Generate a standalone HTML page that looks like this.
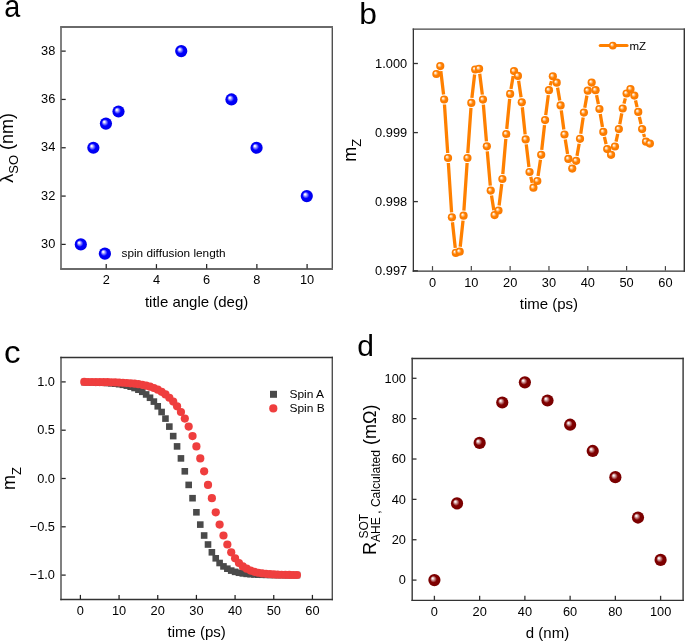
<!DOCTYPE html>
<html><head><meta charset="utf-8"><style>
html,body{margin:0;padding:0;background:#fff;}
svg{display:block;will-change:transform;}
text{font-family:"Liberation Sans", sans-serif;fill:#000;}
</style></head><body>
<svg width="685" height="642" viewBox="0 0 685 642">
<defs>
<radialGradient id="gBlue" cx="0.5" cy="0.5" r="0.5" fx="0.34" fy="0.34">
<stop offset="0" stop-color="#ffffff"/><stop offset="0.1" stop-color="#f4f4ff"/><stop offset="0.55" stop-color="#0000ff"/><stop offset="1" stop-color="#0000e8"/>
</radialGradient>
<radialGradient id="gOrange" cx="0.5" cy="0.5" r="0.5" fx="0.34" fy="0.34">
<stop offset="0" stop-color="#ffffff"/><stop offset="0.1" stop-color="#fff4e8"/><stop offset="0.55" stop-color="#ff8000"/><stop offset="1" stop-color="#f87800"/>
</radialGradient>
<radialGradient id="gRed" cx="0.5" cy="0.5" r="0.5" fx="0.34" fy="0.34">
<stop offset="0" stop-color="#ffffff"/><stop offset="0.1" stop-color="#f8eeee"/><stop offset="0.55" stop-color="#800000"/><stop offset="1" stop-color="#780000"/>
</radialGradient>
</defs>
<rect x="0" y="0" width="685" height="642" fill="#fff"/>
<line x1="61.0" y1="26.3" x2="61.0" y2="269.7" stroke="#808080" stroke-width="2"/>
<line x1="332.3" y1="26.3" x2="332.3" y2="269.7" stroke="#505050" stroke-width="1.4"/>
<line x1="60.3" y1="27.0" x2="333.0" y2="27.0" stroke="#6a6a6a" stroke-width="2"/>
<line x1="60.3" y1="269.0" x2="333.0" y2="269.0" stroke="#6a6a6a" stroke-width="2"/>
<line x1="106.22" y1="268.50" x2="106.22" y2="264.10" stroke="#222" stroke-width="1.25"/>
<text transform="translate(106.22,284.30) scale(0.95,1)" font-size="13.5" text-anchor="middle" >2</text>
<line x1="156.44" y1="268.50" x2="156.44" y2="264.10" stroke="#222" stroke-width="1.25"/>
<text transform="translate(156.44,284.30) scale(0.95,1)" font-size="13.5" text-anchor="middle" >4</text>
<line x1="206.66" y1="268.50" x2="206.66" y2="264.10" stroke="#222" stroke-width="1.25"/>
<text transform="translate(206.66,284.30) scale(0.95,1)" font-size="13.5" text-anchor="middle" >6</text>
<line x1="256.88" y1="268.50" x2="256.88" y2="264.10" stroke="#222" stroke-width="1.25"/>
<text transform="translate(256.88,284.30) scale(0.95,1)" font-size="13.5" text-anchor="middle" >8</text>
<line x1="307.10" y1="268.50" x2="307.10" y2="264.10" stroke="#222" stroke-width="1.25"/>
<text transform="translate(307.10,284.30) scale(0.95,1)" font-size="13.5" text-anchor="middle" >10</text>
<line x1="61.50" y1="244.40" x2="65.70" y2="244.40" stroke="#222" stroke-width="1.25"/>
<text transform="translate(55.30,248.10) scale(0.95,1)" font-size="13.5" text-anchor="end" >30</text>
<line x1="61.50" y1="196.08" x2="65.70" y2="196.08" stroke="#222" stroke-width="1.25"/>
<text transform="translate(55.30,199.78) scale(0.95,1)" font-size="13.5" text-anchor="end" >32</text>
<line x1="61.50" y1="147.76" x2="65.70" y2="147.76" stroke="#222" stroke-width="1.25"/>
<text transform="translate(55.30,151.46) scale(0.95,1)" font-size="13.5" text-anchor="end" >34</text>
<line x1="61.50" y1="99.44" x2="65.70" y2="99.44" stroke="#222" stroke-width="1.25"/>
<text transform="translate(55.30,103.14) scale(0.95,1)" font-size="13.5" text-anchor="end" >36</text>
<line x1="61.50" y1="51.12" x2="65.70" y2="51.12" stroke="#222" stroke-width="1.25"/>
<text transform="translate(55.30,54.82) scale(0.95,1)" font-size="13.5" text-anchor="end" >38</text>
<circle cx="80.81" cy="244.40" r="6.1" fill="url(#gBlue)"/>
<circle cx="93.36" cy="147.76" r="6.1" fill="url(#gBlue)"/>
<circle cx="105.92" cy="123.60" r="6.1" fill="url(#gBlue)"/>
<circle cx="118.48" cy="111.52" r="6.1" fill="url(#gBlue)"/>
<circle cx="181.25" cy="51.12" r="6.1" fill="url(#gBlue)"/>
<circle cx="231.47" cy="99.44" r="6.1" fill="url(#gBlue)"/>
<circle cx="256.58" cy="147.76" r="6.1" fill="url(#gBlue)"/>
<circle cx="306.80" cy="196.08" r="6.1" fill="url(#gBlue)"/>
<circle cx="104.90" cy="253.60" r="6.1" fill="url(#gBlue)"/>
<text x="121.50" y="257.30" font-size="11.8" text-anchor="start" >spin diffusion length</text>
<text x="196.60" y="306.80" font-size="15" text-anchor="middle" >title angle (deg)</text>
<text transform="translate(13.0,147.9) rotate(-90)" font-size="18" text-anchor="middle">&#955;<tspan font-size="13" dy="5">SO</tspan><tspan dy="-5"> (nm)</tspan></text>
<text transform="translate(4.3,17.0) scale(0.9,1)" font-size="32">a</text>
<line x1="413.35" y1="28.5" x2="413.35" y2="271.8" stroke="#333" stroke-width="1.3"/>
<line x1="684.3" y1="28.5" x2="684.3" y2="271.8" stroke="#333" stroke-width="1.4"/>
<line x1="412.65000000000003" y1="29.2" x2="685.0" y2="29.2" stroke="#444" stroke-width="1.25"/>
<line x1="412.65000000000003" y1="271.1" x2="685.0" y2="271.1" stroke="#333" stroke-width="1.3"/>
<line x1="432.50" y1="270.60" x2="432.50" y2="266.10" stroke="#444" stroke-width="1.2"/>
<text transform="translate(432.50,286.70) scale(0.95,1)" font-size="13.5" text-anchor="middle" >0</text>
<line x1="471.32" y1="270.60" x2="471.32" y2="266.10" stroke="#444" stroke-width="1.2"/>
<text transform="translate(471.32,286.70) scale(0.95,1)" font-size="13.5" text-anchor="middle" >10</text>
<line x1="510.14" y1="270.60" x2="510.14" y2="266.10" stroke="#444" stroke-width="1.2"/>
<text transform="translate(510.14,286.70) scale(0.95,1)" font-size="13.5" text-anchor="middle" >20</text>
<line x1="548.96" y1="270.60" x2="548.96" y2="266.10" stroke="#444" stroke-width="1.2"/>
<text transform="translate(548.96,286.70) scale(0.95,1)" font-size="13.5" text-anchor="middle" >30</text>
<line x1="587.78" y1="270.60" x2="587.78" y2="266.10" stroke="#444" stroke-width="1.2"/>
<text transform="translate(587.78,286.70) scale(0.95,1)" font-size="13.5" text-anchor="middle" >40</text>
<line x1="626.60" y1="270.60" x2="626.60" y2="266.10" stroke="#444" stroke-width="1.2"/>
<text transform="translate(626.60,286.70) scale(0.95,1)" font-size="13.5" text-anchor="middle" >50</text>
<line x1="665.42" y1="270.60" x2="665.42" y2="266.10" stroke="#444" stroke-width="1.2"/>
<text transform="translate(665.42,286.70) scale(0.95,1)" font-size="13.5" text-anchor="middle" >60</text>
<line x1="413.50" y1="63.50" x2="417.90" y2="63.50" stroke="#333" stroke-width="1.3"/>
<text transform="translate(407.20,67.70) scale(0.95,1)" font-size="13.5" text-anchor="end" >1.000</text>
<line x1="413.50" y1="132.60" x2="417.90" y2="132.60" stroke="#333" stroke-width="1.3"/>
<text transform="translate(407.20,136.80) scale(0.95,1)" font-size="13.5" text-anchor="end" >0.999</text>
<line x1="413.50" y1="201.60" x2="417.90" y2="201.60" stroke="#333" stroke-width="1.3"/>
<text transform="translate(407.20,205.80) scale(0.95,1)" font-size="13.5" text-anchor="end" >0.998</text>
<line x1="413.50" y1="270.80" x2="417.90" y2="270.80" stroke="#333" stroke-width="1.3"/>
<text transform="translate(407.20,275.00) scale(0.95,1)" font-size="13.5" text-anchor="end" >0.997</text>
<path fill="none" stroke="#ff8000" stroke-width="3.3" d="M440.84,71.07L443.57,94.53M444.48,104.49L447.70,153.01M448.35,162.99L451.58,212.31M452.45,222.27L455.25,247.83M460.21,246.73L463.02,220.67M463.89,210.71L467.10,162.99M467.79,153.01L470.97,107.89M471.90,97.93L474.62,74.47M479.71,73.76L482.34,94.64M483.38,104.58L486.43,141.32M487.28,151.28L490.29,185.62M491.51,195.54L493.83,210.16M499.11,205.54L501.76,183.96M502.81,174.02L505.83,138.98M506.74,129.02L509.66,98.88M510.98,88.97L513.18,76.03M518.63,80.85L521.06,97.35M522.31,107.27L525.15,134.43M526.26,144.36L528.96,167.04M530.75,176.85L532.23,182.85M538.05,176.05L540.46,159.75M541.75,149.83L544.52,125.07M545.72,115.14L548.32,95.16M550.30,85.38L551.50,81.12M557.57,87.63L559.76,100.47M561.27,110.36L563.83,129.54M565.27,139.44L567.58,153.96M570.23,163.54L570.39,163.96M577.00,155.88L579.15,143.72M580.75,133.85L583.17,117.55M584.77,107.68L586.91,95.62M596.56,95.10L598.41,104.10M600.26,113.93L602.47,126.97M604.41,136.78L606.09,144.22M616.04,141.62L617.75,133.98M619.76,124.19L621.79,113.41M623.97,103.66L625.35,98.34M635.52,100.46L637.09,107.04M639.35,116.78L641.03,124.22M643.60,133.88L644.54,136.92"/>
<circle cx="436.38" cy="74.00" r="4.1" fill="url(#gOrange)"/>
<circle cx="440.26" cy="66.10" r="4.1" fill="url(#gOrange)"/>
<circle cx="444.15" cy="99.50" r="4.1" fill="url(#gOrange)"/>
<circle cx="448.03" cy="158.00" r="4.1" fill="url(#gOrange)"/>
<circle cx="451.91" cy="217.30" r="4.1" fill="url(#gOrange)"/>
<circle cx="455.79" cy="252.80" r="4.1" fill="url(#gOrange)"/>
<circle cx="459.67" cy="251.70" r="4.1" fill="url(#gOrange)"/>
<circle cx="463.56" cy="215.70" r="4.1" fill="url(#gOrange)"/>
<circle cx="467.44" cy="158.00" r="4.1" fill="url(#gOrange)"/>
<circle cx="471.32" cy="102.90" r="4.1" fill="url(#gOrange)"/>
<circle cx="475.20" cy="69.50" r="4.1" fill="url(#gOrange)"/>
<circle cx="479.08" cy="68.80" r="4.1" fill="url(#gOrange)"/>
<circle cx="482.97" cy="99.60" r="4.1" fill="url(#gOrange)"/>
<circle cx="486.85" cy="146.30" r="4.1" fill="url(#gOrange)"/>
<circle cx="490.73" cy="190.60" r="4.1" fill="url(#gOrange)"/>
<circle cx="494.61" cy="215.10" r="4.1" fill="url(#gOrange)"/>
<circle cx="498.49" cy="210.50" r="4.1" fill="url(#gOrange)"/>
<circle cx="502.38" cy="179.00" r="4.1" fill="url(#gOrange)"/>
<circle cx="506.26" cy="134.00" r="4.1" fill="url(#gOrange)"/>
<circle cx="510.14" cy="93.90" r="4.1" fill="url(#gOrange)"/>
<circle cx="514.02" cy="71.10" r="4.1" fill="url(#gOrange)"/>
<circle cx="517.90" cy="75.90" r="4.1" fill="url(#gOrange)"/>
<circle cx="521.79" cy="102.30" r="4.1" fill="url(#gOrange)"/>
<circle cx="525.67" cy="139.40" r="4.1" fill="url(#gOrange)"/>
<circle cx="529.55" cy="172.00" r="4.1" fill="url(#gOrange)"/>
<circle cx="533.43" cy="187.70" r="4.1" fill="url(#gOrange)"/>
<circle cx="537.31" cy="181.00" r="4.1" fill="url(#gOrange)"/>
<circle cx="541.20" cy="154.80" r="4.1" fill="url(#gOrange)"/>
<circle cx="545.08" cy="120.10" r="4.1" fill="url(#gOrange)"/>
<circle cx="548.96" cy="90.20" r="4.1" fill="url(#gOrange)"/>
<circle cx="552.84" cy="76.30" r="4.1" fill="url(#gOrange)"/>
<circle cx="556.72" cy="82.70" r="4.1" fill="url(#gOrange)"/>
<circle cx="560.61" cy="105.40" r="4.1" fill="url(#gOrange)"/>
<circle cx="564.49" cy="134.50" r="4.1" fill="url(#gOrange)"/>
<circle cx="568.37" cy="158.90" r="4.1" fill="url(#gOrange)"/>
<circle cx="572.25" cy="168.60" r="4.1" fill="url(#gOrange)"/>
<circle cx="576.13" cy="160.80" r="4.1" fill="url(#gOrange)"/>
<circle cx="580.02" cy="138.80" r="4.1" fill="url(#gOrange)"/>
<circle cx="583.90" cy="112.60" r="4.1" fill="url(#gOrange)"/>
<circle cx="587.78" cy="90.70" r="4.1" fill="url(#gOrange)"/>
<circle cx="591.66" cy="82.60" r="4.1" fill="url(#gOrange)"/>
<circle cx="595.54" cy="90.20" r="4.1" fill="url(#gOrange)"/>
<circle cx="599.43" cy="109.00" r="4.1" fill="url(#gOrange)"/>
<circle cx="603.31" cy="131.90" r="4.1" fill="url(#gOrange)"/>
<circle cx="607.19" cy="149.10" r="4.1" fill="url(#gOrange)"/>
<circle cx="611.07" cy="154.80" r="4.1" fill="url(#gOrange)"/>
<circle cx="614.95" cy="146.50" r="4.1" fill="url(#gOrange)"/>
<circle cx="618.84" cy="129.10" r="4.1" fill="url(#gOrange)"/>
<circle cx="622.72" cy="108.50" r="4.1" fill="url(#gOrange)"/>
<circle cx="626.60" cy="93.50" r="4.1" fill="url(#gOrange)"/>
<circle cx="630.48" cy="89.10" r="4.1" fill="url(#gOrange)"/>
<circle cx="634.36" cy="95.60" r="4.1" fill="url(#gOrange)"/>
<circle cx="638.25" cy="111.90" r="4.1" fill="url(#gOrange)"/>
<circle cx="642.13" cy="129.10" r="4.1" fill="url(#gOrange)"/>
<circle cx="646.01" cy="141.70" r="4.1" fill="url(#gOrange)"/>
<circle cx="649.89" cy="143.60" r="4.1" fill="url(#gOrange)"/>
<path d="M600.3,45.5H627.0" stroke="#ff8000" stroke-width="3.2" stroke-linecap="round"/>
<circle cx="612.80" cy="45.60" r="3.9" fill="url(#gOrange)"/>
<text x="629.50" y="49.50" font-size="11.5" text-anchor="start" >mZ</text>
<text x="548.90" y="308.90" font-size="15" text-anchor="middle" >time (ps)</text>
<text transform="translate(355.9,150.2) rotate(-90)" font-size="18" text-anchor="middle">m<tspan font-size="13" dy="5.4">Z</tspan></text>
<text transform="translate(359.2,23.6) scale(1.06,1)" font-size="30">b</text>
<line x1="61.0" y1="356.8" x2="61.0" y2="600.2" stroke="#808080" stroke-width="2"/>
<line x1="332.3" y1="356.8" x2="332.3" y2="600.2" stroke="#505050" stroke-width="1.4"/>
<line x1="60.3" y1="357.5" x2="333.0" y2="357.5" stroke="#333" stroke-width="1.4"/>
<line x1="60.3" y1="599.5" x2="333.0" y2="599.5" stroke="#333" stroke-width="1.5"/>
<line x1="80.40" y1="599.30" x2="80.40" y2="594.90" stroke="#222" stroke-width="1.25"/>
<text transform="translate(80.40,615.30) scale(0.95,1)" font-size="13.5" text-anchor="middle" >0</text>
<line x1="119.07" y1="599.30" x2="119.07" y2="594.90" stroke="#222" stroke-width="1.25"/>
<text transform="translate(119.07,615.30) scale(0.95,1)" font-size="13.5" text-anchor="middle" >10</text>
<line x1="157.74" y1="599.30" x2="157.74" y2="594.90" stroke="#222" stroke-width="1.25"/>
<text transform="translate(157.74,615.30) scale(0.95,1)" font-size="13.5" text-anchor="middle" >20</text>
<line x1="196.41" y1="599.30" x2="196.41" y2="594.90" stroke="#222" stroke-width="1.25"/>
<text transform="translate(196.41,615.30) scale(0.95,1)" font-size="13.5" text-anchor="middle" >30</text>
<line x1="235.08" y1="599.30" x2="235.08" y2="594.90" stroke="#222" stroke-width="1.25"/>
<text transform="translate(235.08,615.30) scale(0.95,1)" font-size="13.5" text-anchor="middle" >40</text>
<line x1="273.75" y1="599.30" x2="273.75" y2="594.90" stroke="#222" stroke-width="1.25"/>
<text transform="translate(273.75,615.30) scale(0.95,1)" font-size="13.5" text-anchor="middle" >50</text>
<line x1="312.42" y1="599.30" x2="312.42" y2="594.90" stroke="#222" stroke-width="1.25"/>
<text transform="translate(312.42,615.30) scale(0.95,1)" font-size="13.5" text-anchor="middle" >60</text>
<line x1="61.50" y1="381.90" x2="65.70" y2="381.90" stroke="#222" stroke-width="1.25"/>
<text transform="translate(55.00,385.90) scale(0.95,1)" font-size="13.5" text-anchor="end" >1.0</text>
<line x1="61.50" y1="430.20" x2="65.70" y2="430.20" stroke="#222" stroke-width="1.25"/>
<text transform="translate(55.00,434.20) scale(0.95,1)" font-size="13.5" text-anchor="end" >0.5</text>
<line x1="61.50" y1="478.50" x2="65.70" y2="478.50" stroke="#222" stroke-width="1.25"/>
<text transform="translate(55.00,482.50) scale(0.95,1)" font-size="13.5" text-anchor="end" >0.0</text>
<line x1="61.50" y1="526.80" x2="65.70" y2="526.80" stroke="#222" stroke-width="1.25"/>
<text transform="translate(55.00,530.80) scale(0.95,1)" font-size="13.5" text-anchor="end" >&#8722;0.5</text>
<line x1="61.50" y1="575.10" x2="65.70" y2="575.10" stroke="#222" stroke-width="1.25"/>
<text transform="translate(55.00,579.10) scale(0.95,1)" font-size="13.5" text-anchor="end" >&#8722;1.0</text>
<rect x="80.97" y="378.84" width="6.6" height="6.6" fill="#4a4a4a"/>
<rect x="84.83" y="378.91" width="6.6" height="6.6" fill="#4a4a4a"/>
<rect x="88.70" y="379.00" width="6.6" height="6.6" fill="#4a4a4a"/>
<rect x="92.57" y="379.11" width="6.6" height="6.6" fill="#4a4a4a"/>
<rect x="96.44" y="379.25" width="6.6" height="6.6" fill="#4a4a4a"/>
<rect x="100.30" y="379.44" width="6.6" height="6.6" fill="#4a4a4a"/>
<rect x="104.17" y="379.68" width="6.6" height="6.6" fill="#4a4a4a"/>
<rect x="108.04" y="379.99" width="6.6" height="6.6" fill="#4a4a4a"/>
<rect x="111.90" y="380.38" width="6.6" height="6.6" fill="#4a4a4a"/>
<rect x="115.77" y="380.88" width="6.6" height="6.6" fill="#4a4a4a"/>
<rect x="119.64" y="381.52" width="6.6" height="6.6" fill="#4a4a4a"/>
<rect x="123.50" y="382.34" width="6.6" height="6.6" fill="#4a4a4a"/>
<rect x="127.37" y="383.39" width="6.6" height="6.6" fill="#4a4a4a"/>
<rect x="131.24" y="384.71" width="6.6" height="6.6" fill="#4a4a4a"/>
<rect x="135.10" y="386.39" width="6.6" height="6.6" fill="#4a4a4a"/>
<rect x="138.97" y="388.50" width="6.6" height="6.6" fill="#4a4a4a"/>
<rect x="142.84" y="391.15" width="6.6" height="6.6" fill="#4a4a4a"/>
<rect x="146.71" y="394.45" width="6.6" height="6.6" fill="#4a4a4a"/>
<rect x="150.57" y="398.30" width="6.6" height="6.6" fill="#4a4a4a"/>
<rect x="154.44" y="403.00" width="6.6" height="6.6" fill="#4a4a4a"/>
<rect x="158.31" y="408.70" width="6.6" height="6.6" fill="#4a4a4a"/>
<rect x="162.17" y="415.30" width="6.6" height="6.6" fill="#4a4a4a"/>
<rect x="166.04" y="423.30" width="6.6" height="6.6" fill="#4a4a4a"/>
<rect x="169.91" y="432.80" width="6.6" height="6.6" fill="#4a4a4a"/>
<rect x="173.77" y="443.10" width="6.6" height="6.6" fill="#4a4a4a"/>
<rect x="177.64" y="455.10" width="6.6" height="6.6" fill="#4a4a4a"/>
<rect x="181.51" y="468.00" width="6.6" height="6.6" fill="#4a4a4a"/>
<rect x="185.38" y="481.60" width="6.6" height="6.6" fill="#4a4a4a"/>
<rect x="189.24" y="494.90" width="6.6" height="6.6" fill="#4a4a4a"/>
<rect x="193.11" y="509.00" width="6.6" height="6.6" fill="#4a4a4a"/>
<rect x="196.98" y="521.30" width="6.6" height="6.6" fill="#4a4a4a"/>
<rect x="200.84" y="532.20" width="6.6" height="6.6" fill="#4a4a4a"/>
<rect x="204.71" y="541.20" width="6.6" height="6.6" fill="#4a4a4a"/>
<rect x="208.58" y="549.00" width="6.6" height="6.6" fill="#4a4a4a"/>
<rect x="212.44" y="555.00" width="6.6" height="6.6" fill="#4a4a4a"/>
<rect x="216.31" y="559.70" width="6.6" height="6.6" fill="#4a4a4a"/>
<rect x="220.18" y="563.10" width="6.6" height="6.6" fill="#4a4a4a"/>
<rect x="224.05" y="565.40" width="6.6" height="6.6" fill="#4a4a4a"/>
<rect x="227.91" y="567.30" width="6.6" height="6.6" fill="#4a4a4a"/>
<rect x="231.78" y="568.54" width="6.6" height="6.6" fill="#4a4a4a"/>
<rect x="235.65" y="569.44" width="6.6" height="6.6" fill="#4a4a4a"/>
<rect x="239.51" y="570.10" width="6.6" height="6.6" fill="#4a4a4a"/>
<rect x="243.38" y="570.57" width="6.6" height="6.6" fill="#4a4a4a"/>
<rect x="247.25" y="570.91" width="6.6" height="6.6" fill="#4a4a4a"/>
<rect x="251.11" y="571.16" width="6.6" height="6.6" fill="#4a4a4a"/>
<rect x="254.98" y="571.34" width="6.6" height="6.6" fill="#4a4a4a"/>
<rect x="258.85" y="571.47" width="6.6" height="6.6" fill="#4a4a4a"/>
<rect x="262.72" y="571.56" width="6.6" height="6.6" fill="#4a4a4a"/>
<rect x="266.58" y="571.63" width="6.6" height="6.6" fill="#4a4a4a"/>
<rect x="270.45" y="571.68" width="6.6" height="6.6" fill="#4a4a4a"/>
<rect x="274.32" y="571.71" width="6.6" height="6.6" fill="#4a4a4a"/>
<rect x="278.18" y="571.74" width="6.6" height="6.6" fill="#4a4a4a"/>
<rect x="282.05" y="571.75" width="6.6" height="6.6" fill="#4a4a4a"/>
<rect x="285.92" y="571.77" width="6.6" height="6.6" fill="#4a4a4a"/>
<rect x="289.79" y="571.78" width="6.6" height="6.6" fill="#4a4a4a"/>
<rect x="293.65" y="571.78" width="6.6" height="6.6" fill="#4a4a4a"/>
<circle cx="84.27" cy="381.97" r="4.1" fill="#ef3e3e"/>
<circle cx="88.13" cy="381.99" r="4.1" fill="#ef3e3e"/>
<circle cx="92.00" cy="382.01" r="4.1" fill="#ef3e3e"/>
<circle cx="95.87" cy="382.04" r="4.1" fill="#ef3e3e"/>
<circle cx="99.74" cy="382.09" r="4.1" fill="#ef3e3e"/>
<circle cx="103.60" cy="382.14" r="4.1" fill="#ef3e3e"/>
<circle cx="107.47" cy="382.21" r="4.1" fill="#ef3e3e"/>
<circle cx="111.34" cy="382.30" r="4.1" fill="#ef3e3e"/>
<circle cx="115.20" cy="382.41" r="4.1" fill="#ef3e3e"/>
<circle cx="119.07" cy="382.55" r="4.1" fill="#ef3e3e"/>
<circle cx="122.94" cy="382.74" r="4.1" fill="#ef3e3e"/>
<circle cx="126.80" cy="382.98" r="4.1" fill="#ef3e3e"/>
<circle cx="130.67" cy="383.29" r="4.1" fill="#ef3e3e"/>
<circle cx="134.54" cy="383.68" r="4.1" fill="#ef3e3e"/>
<circle cx="138.41" cy="384.18" r="4.1" fill="#ef3e3e"/>
<circle cx="142.27" cy="384.82" r="4.1" fill="#ef3e3e"/>
<circle cx="146.14" cy="385.64" r="4.1" fill="#ef3e3e"/>
<circle cx="150.01" cy="386.69" r="4.1" fill="#ef3e3e"/>
<circle cx="153.87" cy="388.01" r="4.1" fill="#ef3e3e"/>
<circle cx="157.74" cy="389.69" r="4.1" fill="#ef3e3e"/>
<circle cx="161.61" cy="391.80" r="4.1" fill="#ef3e3e"/>
<circle cx="165.47" cy="394.45" r="4.1" fill="#ef3e3e"/>
<circle cx="169.34" cy="397.75" r="4.1" fill="#ef3e3e"/>
<circle cx="173.21" cy="401.60" r="4.1" fill="#ef3e3e"/>
<circle cx="177.07" cy="406.30" r="4.1" fill="#ef3e3e"/>
<circle cx="180.94" cy="412.00" r="4.1" fill="#ef3e3e"/>
<circle cx="184.81" cy="418.60" r="4.1" fill="#ef3e3e"/>
<circle cx="188.68" cy="426.60" r="4.1" fill="#ef3e3e"/>
<circle cx="192.54" cy="436.10" r="4.1" fill="#ef3e3e"/>
<circle cx="196.41" cy="446.40" r="4.1" fill="#ef3e3e"/>
<circle cx="200.28" cy="458.40" r="4.1" fill="#ef3e3e"/>
<circle cx="204.14" cy="471.30" r="4.1" fill="#ef3e3e"/>
<circle cx="208.01" cy="484.90" r="4.1" fill="#ef3e3e"/>
<circle cx="211.88" cy="498.20" r="4.1" fill="#ef3e3e"/>
<circle cx="215.75" cy="512.30" r="4.1" fill="#ef3e3e"/>
<circle cx="219.61" cy="524.60" r="4.1" fill="#ef3e3e"/>
<circle cx="223.48" cy="535.50" r="4.1" fill="#ef3e3e"/>
<circle cx="227.35" cy="544.50" r="4.1" fill="#ef3e3e"/>
<circle cx="231.21" cy="552.30" r="4.1" fill="#ef3e3e"/>
<circle cx="235.08" cy="558.30" r="4.1" fill="#ef3e3e"/>
<circle cx="238.95" cy="563.00" r="4.1" fill="#ef3e3e"/>
<circle cx="242.81" cy="566.40" r="4.1" fill="#ef3e3e"/>
<circle cx="246.68" cy="568.70" r="4.1" fill="#ef3e3e"/>
<circle cx="250.55" cy="570.60" r="4.1" fill="#ef3e3e"/>
<circle cx="254.41" cy="571.84" r="4.1" fill="#ef3e3e"/>
<circle cx="258.28" cy="572.74" r="4.1" fill="#ef3e3e"/>
<circle cx="262.15" cy="573.40" r="4.1" fill="#ef3e3e"/>
<circle cx="266.02" cy="573.87" r="4.1" fill="#ef3e3e"/>
<circle cx="269.88" cy="574.21" r="4.1" fill="#ef3e3e"/>
<circle cx="273.75" cy="574.46" r="4.1" fill="#ef3e3e"/>
<circle cx="277.62" cy="574.64" r="4.1" fill="#ef3e3e"/>
<circle cx="281.48" cy="574.77" r="4.1" fill="#ef3e3e"/>
<circle cx="285.35" cy="574.86" r="4.1" fill="#ef3e3e"/>
<circle cx="289.22" cy="574.93" r="4.1" fill="#ef3e3e"/>
<circle cx="293.09" cy="574.98" r="4.1" fill="#ef3e3e"/>
<circle cx="296.95" cy="575.01" r="4.1" fill="#ef3e3e"/>
<rect x="270.0" y="390.8" width="7" height="7" fill="#4a4a4a"/>
<circle cx="273.3" cy="408.4" r="4.1" fill="#ef3e3e"/>
<text transform="translate(289.4,397.6) scale(1.09,1)" font-size="11">Spin A</text>
<text transform="translate(289.4,411.9) scale(1.09,1)" font-size="11">Spin B</text>
<text x="196.70" y="636.80" font-size="15" text-anchor="middle" >time (ps)</text>
<text transform="translate(15.4,478.5) rotate(-90)" font-size="18" text-anchor="middle">m<tspan font-size="13" dy="5.4">Z</tspan></text>
<text transform="translate(3.9,362.6) scale(1.05,1)" font-size="31.5">c</text>
<line x1="412.2" y1="357.8" x2="412.2" y2="601.1" stroke="#444" stroke-width="1.5"/>
<line x1="683.1" y1="357.8" x2="683.1" y2="601.1" stroke="#333" stroke-width="1.4"/>
<line x1="411.5" y1="358.5" x2="683.8000000000001" y2="358.5" stroke="#333" stroke-width="1.4"/>
<line x1="411.5" y1="600.4" x2="683.8000000000001" y2="600.4" stroke="#333" stroke-width="1.4"/>
<line x1="434.40" y1="600.40" x2="434.40" y2="595.80" stroke="#333" stroke-width="1.3"/>
<text transform="translate(434.40,616.20) scale(0.95,1)" font-size="13.5" text-anchor="middle" >0</text>
<line x1="412.00" y1="580.10" x2="416.50" y2="580.10" stroke="#333" stroke-width="1.3"/>
<text transform="translate(405.90,584.30) scale(0.95,1)" font-size="13.5" text-anchor="end" >0</text>
<line x1="479.64" y1="600.40" x2="479.64" y2="595.80" stroke="#333" stroke-width="1.3"/>
<text transform="translate(479.64,616.20) scale(0.95,1)" font-size="13.5" text-anchor="middle" >20</text>
<line x1="412.00" y1="539.74" x2="416.50" y2="539.74" stroke="#333" stroke-width="1.3"/>
<text transform="translate(405.90,543.94) scale(0.95,1)" font-size="13.5" text-anchor="end" >20</text>
<line x1="524.88" y1="600.40" x2="524.88" y2="595.80" stroke="#333" stroke-width="1.3"/>
<text transform="translate(524.88,616.20) scale(0.95,1)" font-size="13.5" text-anchor="middle" >40</text>
<line x1="412.00" y1="499.38" x2="416.50" y2="499.38" stroke="#333" stroke-width="1.3"/>
<text transform="translate(405.90,503.58) scale(0.95,1)" font-size="13.5" text-anchor="end" >40</text>
<line x1="570.12" y1="600.40" x2="570.12" y2="595.80" stroke="#333" stroke-width="1.3"/>
<text transform="translate(570.12,616.20) scale(0.95,1)" font-size="13.5" text-anchor="middle" >60</text>
<line x1="412.00" y1="459.02" x2="416.50" y2="459.02" stroke="#333" stroke-width="1.3"/>
<text transform="translate(405.90,463.22) scale(0.95,1)" font-size="13.5" text-anchor="end" >60</text>
<line x1="615.36" y1="600.40" x2="615.36" y2="595.80" stroke="#333" stroke-width="1.3"/>
<text transform="translate(615.36,616.20) scale(0.95,1)" font-size="13.5" text-anchor="middle" >80</text>
<line x1="412.00" y1="418.66" x2="416.50" y2="418.66" stroke="#333" stroke-width="1.3"/>
<text transform="translate(405.90,422.86) scale(0.95,1)" font-size="13.5" text-anchor="end" >80</text>
<line x1="660.60" y1="600.40" x2="660.60" y2="595.80" stroke="#333" stroke-width="1.3"/>
<text transform="translate(660.60,616.20) scale(0.95,1)" font-size="13.5" text-anchor="middle" >100</text>
<line x1="412.00" y1="378.30" x2="416.50" y2="378.30" stroke="#333" stroke-width="1.3"/>
<text transform="translate(405.90,382.50) scale(0.95,1)" font-size="13.5" text-anchor="end" >100</text>
<circle cx="434.40" cy="580.10" r="6.1" fill="url(#gRed)"/>
<circle cx="457.02" cy="503.42" r="6.1" fill="url(#gRed)"/>
<circle cx="479.64" cy="442.88" r="6.1" fill="url(#gRed)"/>
<circle cx="502.26" cy="402.52" r="6.1" fill="url(#gRed)"/>
<circle cx="524.88" cy="382.34" r="6.1" fill="url(#gRed)"/>
<circle cx="547.50" cy="400.50" r="6.1" fill="url(#gRed)"/>
<circle cx="570.12" cy="424.71" r="6.1" fill="url(#gRed)"/>
<circle cx="592.74" cy="450.95" r="6.1" fill="url(#gRed)"/>
<circle cx="615.36" cy="477.18" r="6.1" fill="url(#gRed)"/>
<circle cx="637.98" cy="517.54" r="6.1" fill="url(#gRed)"/>
<circle cx="660.60" cy="559.92" r="6.1" fill="url(#gRed)"/>
<text x="547.50" y="637.70" font-size="15" text-anchor="middle" >d (nm)</text>
<text transform="translate(375.6,479.8) rotate(-90)" font-size="18" text-anchor="middle">R<tspan font-size="12.1" dy="4.5">AHE , Calculated</tspan><tspan dy="-4.5"> (m&#937;)</tspan></text>
<text transform="translate(367.6,538.6) rotate(-90)" font-size="12.1" text-anchor="start">SOT</text>
<text transform="translate(357.2,356.4)" font-size="30">d</text>
</svg>
</body></html>
